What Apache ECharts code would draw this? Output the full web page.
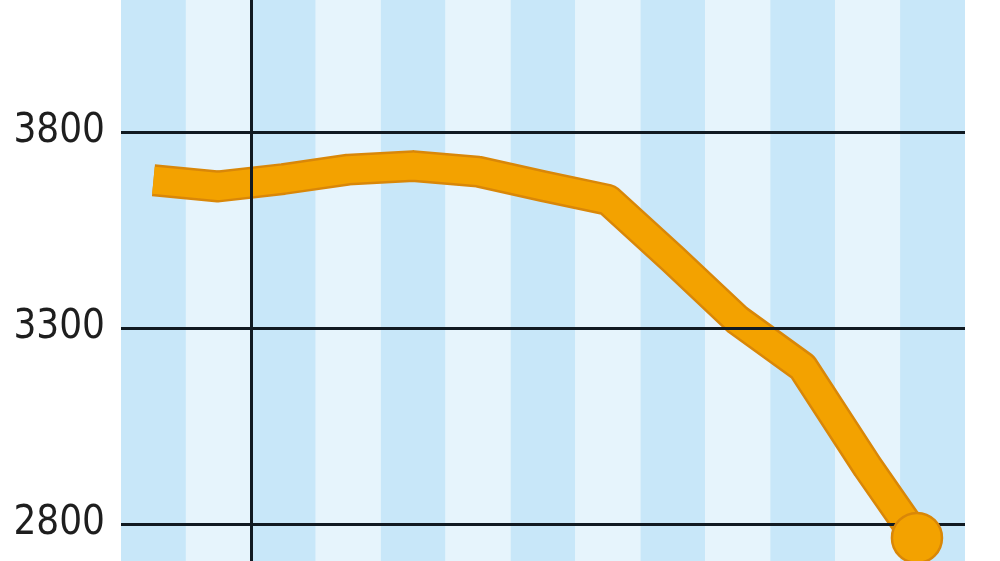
<!DOCTYPE html>
<html>
<head>
<meta charset="utf-8">
<script src="https://cdn.jsdelivr.net/npm/echarts@6/dist/echarts.min.js"></script>
<style>
  html, body { margin: 0; padding: 0; background: #fff; }
  #chart { width: 1000px; height: 561px; }
</style>
</head>
<body>
<div id="chart"></div>
<script>
// positions along the striped x scale (one stripe = one period)
var xPos = [0.5, 1.5, 2.5, 3.5, 4.5, 5.5, 6.5, 7.5, 8.5, 9.5, 10.5, 11.5, 12.26];
var values = [3677, 3661, 3680, 3704, 3713, 3699, 3662, 3627, 3476, 3320, 3200, 2945, 2764];
var yTicks = [2800, 3300, 3800];
var markerX = 2; // black vertical divider

var dom = document.getElementById('chart');
var myChart = echarts.init(dom, null, { renderer: 'canvas' });

var lineData = xPos.map(function (x, i) { return [x, values[i]]; });
var last = lineData[lineData.length - 1];

var option = {
    animation: false,
    grid: {
        left: 121,
        right: 35,
        top: 0,
        bottom: 0
    },
    xAxis: {
        type: 'value',
        min: 0,
        max: 13,
        interval: 1,
        axisLine: { show: false },
        axisTick: { show: false },
        axisLabel: { show: false },
        splitLine: { show: false },
        splitArea: {
            show: true,
            areaStyle: { color: ['#c8e7f9', '#e6f4fc'] }
        }
    },
    yAxis: {
        type: 'value',
        min: 2705,
        max: 4137,
        axisLine: { show: false },
        axisTick: { show: false },
        splitLine: { show: false },
        axisLabel: {
            margin: 16,
            customValues: yTicks,
            formatter: function (v) { return String(v); },
            fontFamily: "'DejaVu Sans Condensed', 'Liberation Sans', sans-serif",
            fontSize: 40,
            color: '#1e1e1e'
        }
    },
    series: [
        {
            // darker rim under the main line
            type: 'line',
            data: lineData,
            symbol: 'none',
            silent: true,
            lineStyle: { color: '#d98708', width: 32, join: 'round', cap: 'butt' },
            markLine: {
                silent: true,
                symbol: 'none',
                label: { show: false },
                lineStyle: { color: '#111a22', width: 3, type: 'solid' },
                data: [{ xAxis: markerX }].concat(yTicks.map(function (v) { return { yAxis: v }; }))
            },
            z: 3
        },
        {
            type: 'line',
            data: lineData,
            symbol: 'none',
            silent: true,
            lineStyle: { color: '#f3a200', width: 27, join: 'round', cap: 'butt' },
            z: 4
        },
        {
            type: 'scatter',
            data: [last],
            symbol: 'circle',
            symbolSize: 50,
            silent: true,
            itemStyle: { color: '#f3a200', borderColor: '#d98708', borderWidth: 2.5, opacity: 1 },
            z: 5
        }
    ]
};

myChart.setOption(option);
</script>
</body>
</html>
